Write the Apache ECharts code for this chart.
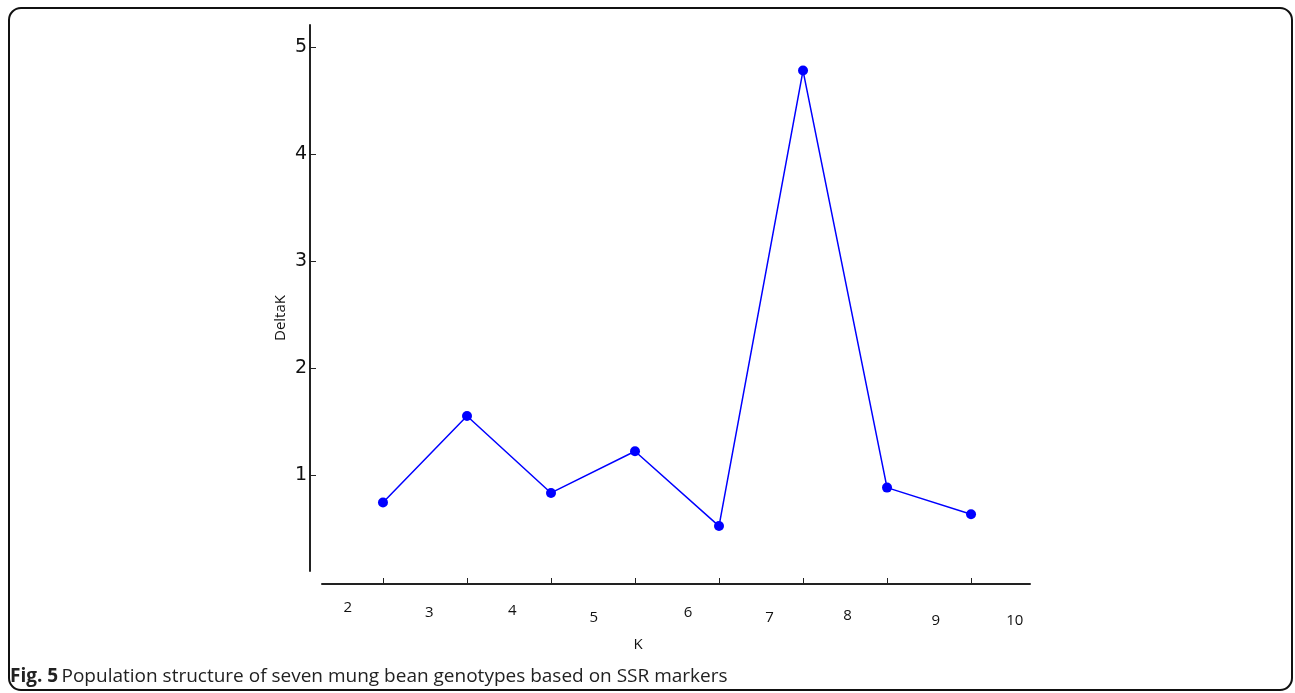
<!DOCTYPE html>
<html>
<head>
<meta charset="utf-8">
<script src="https://cdn.jsdelivr.net/npm/echarts@6/dist/echarts.min.js"></script>
<style>
html,body{margin:0;padding:0;background:#fff;}
#chart{width:1295px;height:693px;}
</style>
</head>
<body>
<div id="chart"></div>
<script>
// Data
var kValues = [3, 4, 5, 6, 7, 8, 9, 10];
var deltaK = [0.74, 1.55, 0.83, 1.22, 0.52, 4.78, 0.88, 0.63];
var yTicks = [1, 2, 3, 4, 5];
var xTickLabels = ['2', '3', '4', '5', '6', '7', '8', '9', '10'];
var xLabelAt = [2.58, 3.55, 4.54, 5.51, 6.63, 7.6, 8.53, 9.58, 10.52];
// Layout (vertical jitter of x labels, px)
var xLabelDy = [0, 5, 3, 10, 5, 10, 8, 13, 13];

var rich = {};
xLabelDy.forEach(function (d, i) {
  rich['l' + i] = { fontFamily: 'Open Sans', fontSize: 15, color: '#111', padding: [d, 0, 0, 0] };
});

var chart = echarts.init(document.getElementById('chart'), null, { renderer: 'canvas' });
chart.setOption({
  animation: false,
  backgroundColor: '#fff',
  grid: { left: 322, right: 265, top: 25, bottom: 122, containLabel: false },
  xAxis: {
    type: 'value',
    min: 2.274,
    max: 10.702,
    offset: 13,
    name: 'K',
    nameLocation: 'middle',
    nameGap: 53,
    nameMoveOverlap: false,
    nameTextStyle: { fontFamily: 'Open Sans', fontSize: 15, color: '#111', padding: [0, 76, 0, 0] },
    axisLine: { show: true, onZero: false, lineStyle: { color: '#222', width: 2 } },
    axisTick: { show: true, inside: true, length: 6, customValues: kValues, lineStyle: { color: '#222', width: 1 } },
    axisLabel: {
      show: true,
      customValues: xLabelAt,
      margin: 16,
      formatter: function (v) {
        var best = 0, bd = 1e9;
        for (var i = 0; i < xLabelAt.length; i++) {
          var d = Math.abs(xLabelAt[i] - v);
          if (d < bd) { bd = d; best = i; }
        }
        return '{l' + best + '|' + xTickLabels[best] + '}';
      },
      rich: rich
    },
    splitLine: { show: false }
  },
  yAxis: {
    type: 'value',
    min: 0.1,
    max: 5.206,
    offset: 12,
    name: 'DeltaK',
    nameLocation: 'middle',
    nameGap: 22,
    nameMoveOverlap: false,
    nameRotate: 90,
    nameTextStyle: { fontFamily: 'Open Sans', fontSize: 15, color: '#111', padding: [0, 40, 0, 0] },
    axisLine: { show: true, onZero: false, lineStyle: { color: '#222', width: 2 } },
    axisTick: { show: true, inside: true, length: 6, customValues: yTicks, lineStyle: { color: '#222', width: 1 } },
    axisLabel: { show: true, customValues: yTicks, margin: 3, fontFamily: 'DejaVu Sans', fontSize: 19, color: '#111' },
    splitLine: { show: false }
  },
  series: [{
    type: 'line',
    data: kValues.map(function (k, i) { return [k, deltaK[i]]; }),
    symbol: 'circle',
    symbolSize: 10,
    lineStyle: { color: '#0000ff', width: 1.5 },
    itemStyle: { color: '#0000ff' }
  }],
  graphic: [
    {
      type: 'rect',
      shape: { x: 9, y: 8, width: 1283, height: 682, r: 12 },
      style: { fill: null, stroke: '#111', lineWidth: 2 },
      silent: true
    },
    {
      type: 'text',
      left: 10,
      top: 667,
      style: {
        text: '{b|Fig. 5} {n|Population structure of seven mung bean genotypes based on SSR markers}',
        rich: {
          b: { fontFamily: 'Open Sans', fontWeight: 'bold', fontSize: 19, fill: '#222' },
          n: { fontFamily: 'Open Sans', fontSize: 19, fill: '#222' }
        }
      }
    }
  ]
});
</script>
</body>
</html>
